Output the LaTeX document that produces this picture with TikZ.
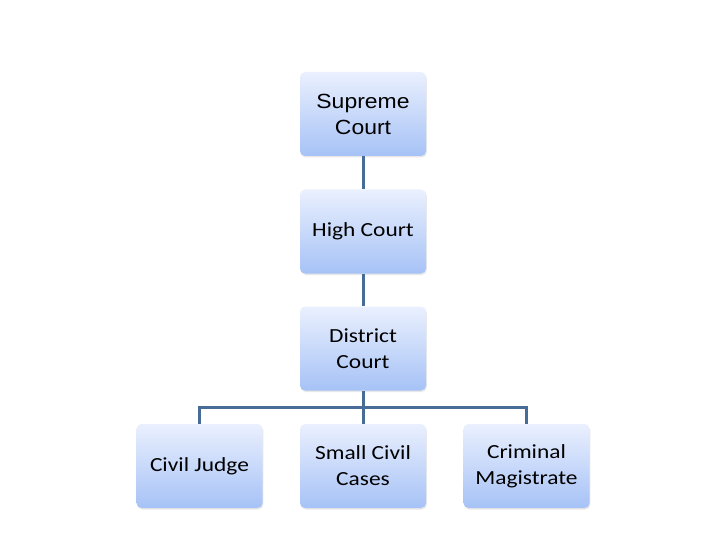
\documentclass[tikz,border=0pt]{standalone}
\usepackage{fontspec}
\setmainfont[FakeStretch=1.17]{Carlito}
\newfontfamily\arialf[FakeStretch=1.12]{Liberation Sans}
\usetikzlibrary{shadows}
\definecolor{boxtop}{RGB}{234,240,254}
\definecolor{boxbot}{RGB}{166,194,246}
\definecolor{linec}{RGB}{72,108,152}
\tikzset{
  orgbox/.style={rectangle, rounded corners=5pt, minimum width=126pt, minimum height=84pt,
    top color=boxtop, bottom color=boxbot, draw=none, align=center,
    font=\fontsize{20}{26}\selectfont, text=black, inner sep=2pt,
    drop shadow={opacity=0.18, shadow xshift=0.8pt, shadow yshift=-1.5pt}},
  conn/.style={draw=linec, line width=3pt}
}
\begin{document}
\begin{tikzpicture}[x=1pt,y=1pt]
\useasboundingbox (0,0) rectangle (720,-540);
\node[orgbox, font=\arialf\fontsize{20.5}{26}\selectfont] (sc) at (363,-114) {Supreme\\Court};
\node[orgbox] (hc) at (363,-231.5) {High Court};
\node[orgbox] (dc) at (363,-348.5) {District\\Court};
\node[orgbox] (cj) at (199.5,-466) {Civil Judge};
\node[orgbox] (scc) at (363,-466) {Small Civil\\Cases};
\node[orgbox] (cm) at (526.5,-466) {Criminal\\Magistrate};
\coordinate (j) at (363,-407);
\draw[conn] (sc.south) -- (hc.north);
\draw[conn] (hc.south) -- (dc.north);
\draw[conn] (dc.south) -- (j);
\draw[conn] (cj.north) |- (j) -| (cm.north);
\draw[conn] (j) -- (scc.north);
\end{tikzpicture}
\end{document}
